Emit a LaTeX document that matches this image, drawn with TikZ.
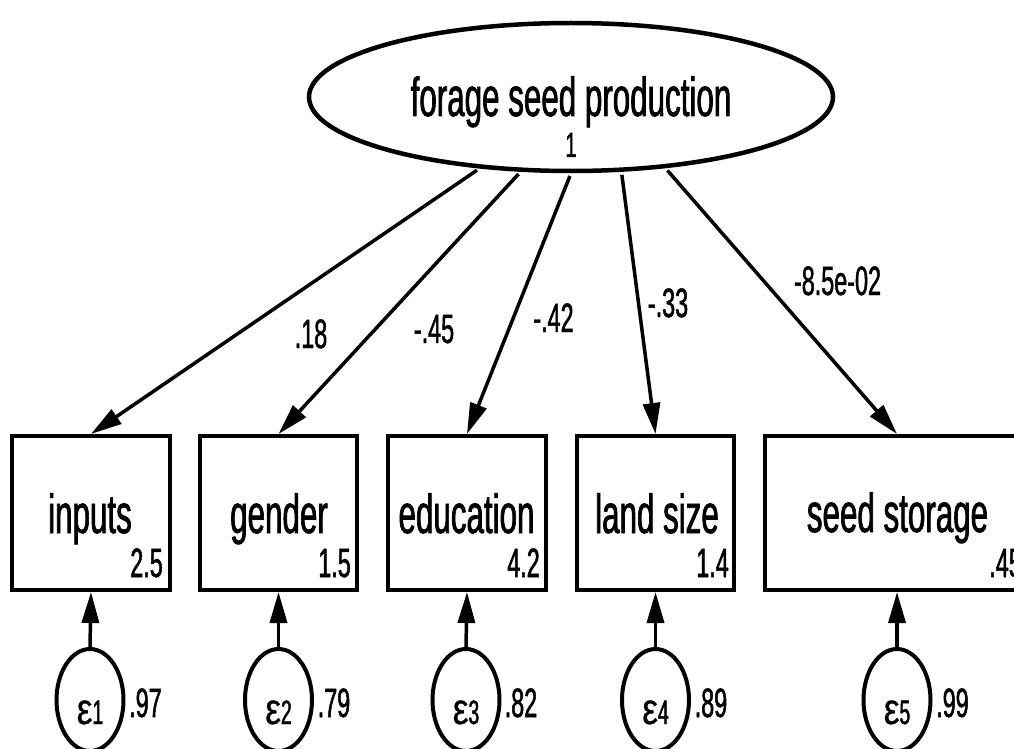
\documentclass[tikz,border=0pt]{standalone}
\usepackage{fontspec}
\setmainfont[FakeStretch=0.57,FakeBold=1.2]{Liberation Sans}
\newfontfamily\epsfont[FakeStretch=0.8,FakeBold=0.6]{Liberation Sans}
\usetikzlibrary{arrows.meta,shapes.geometric}

\begin{document}
\begin{tikzpicture}[x=1pt,y=-1pt,
  latent/.style={draw, ellipse, line width=4.5pt, inner sep=0pt},
  errnode/.style={draw, ellipse, line width=4pt, inner sep=0pt,
    minimum width=67pt, minimum height=102pt},
  observed/.style={draw, rectangle, line width=4pt, inner sep=0pt,
    minimum height=154pt},
  loading/.style={line width=3.5pt, -{Triangle[length=31pt,width=17pt]}},
  varlabel/.style={font=\fontsize{55}{64}\selectfont, inner sep=0pt, anchor=base},
  estlabel/.style={font=\fontsize{41}{48}\selectfont, inner sep=0pt},
  errlabel/.style={inner sep=0pt, anchor=base},
]
\useasboundingbox (0,0) rectangle (1014,749);
\clip (0,0) rectangle (1014,749);

% latent variable
\node[latent, minimum width=524pt, minimum height=148pt] (fsp) at (571,97) {};
\node[varlabel] (fsptext) at (571,116) {forage seed production};
\node[estlabel, anchor=base, font=\fontsize{35}{40}\selectfont] (fspvar) at (571,157) {1};

% observed variables
\node[observed, minimum width=158pt] (inputs)    at (91,513)    {};
\node[observed, minimum width=157pt] (gender)    at (278.5,513) {};
\node[observed, minimum width=158pt] (education) at (467,513)   {};
\node[observed, minimum width=157pt] (land)      at (655.5,513) {};
\node[observed, minimum width=264pt] (storage)   at (897,513)   {};

\node[varlabel] (t1) at (90,533)    {inputs};
\node[varlabel] (t2) at (279,533)   {gender};
\node[varlabel] (t3) at (466.5,533) {education};
\node[varlabel] (t4) at (657,533)   {land size};
\node[varlabel] (t5) at (897.5,532) {seed storage};

\node[estlabel, anchor=base east] (m1) at (163,577)  {2.5};
\node[estlabel, anchor=base east] (m2) at (351,577)  {1.5};
\node[estlabel, anchor=base east] (m3) at (540,577)  {4.2};
\node[estlabel, anchor=base east] (m4) at (729,577)  {1.4};
\node[estlabel, anchor=base east] (m5) at (1022,577) {.45};

% error terms
\node[errnode] (e1) at (90,700)    {};
\node[errnode] (e2) at (278.5,700) {};
\node[errnode] (e3) at (466,700)   {};
\node[errnode] (e4) at (655.5,700) {};
\node[errnode] (e5) at (897,700)   {};

\foreach \e/\x/\k in {e1/90/1, e2/278.5/2, e3/466/3, e4/655.5/4, e5/897/5}{
  \node[errlabel] (\e t) at (\x,724)
    {{\epsfont\fontsize{44}{50}\selectfont ε}{\fontsize{34}{40}\selectfont\k}};
}

\node[estlabel, anchor=base west] (v1) at (129,717)   {.97};
\node[estlabel, anchor=base west] (v2) at (317.5,717) {.79};
\node[estlabel, anchor=base west] (v3) at (504.5,717) {.82};
\node[estlabel, anchor=base west] (v4) at (694.5,717) {.89};
\node[estlabel, anchor=base west] (v5) at (936,717)   {.99};

% loadings
\draw[loading, shorten <=3pt] (fsp.218)   -- (inputs.north);
\draw[loading, shorten <=3pt] (fsp.236.6) -- (gender.north);
\draw[loading, shorten <=3pt] (fsp.270)   -- (education.north);
\draw[loading, shorten <=3pt] (fsp.304)   -- (land.north);
\draw[loading, shorten <=3pt] (fsp.323)   -- (storage.north);

\node[estlabel, anchor=base] (l1) at (311,348)   {.18};
\node[estlabel, anchor=base] (l2) at (434,343)   {-.45};
\node[estlabel, anchor=base] (l3) at (553.5,332) {-.42};
\node[estlabel, anchor=base] (l4) at (668,317)   {-.33};
\node[estlabel, anchor=base] (l5) at (837.5,295) {-8.5e-02};

% error paths
\draw[loading] (e1.north) -- (inputs.south);
\draw[loading] (e2.north) -- (gender.south);
\draw[loading] (e3.north) -- (education.south);
\draw[loading] (e4.north) -- (land.south);
\draw[loading] (e5.north) -- (storage.south);
\end{tikzpicture}
\end{document}
